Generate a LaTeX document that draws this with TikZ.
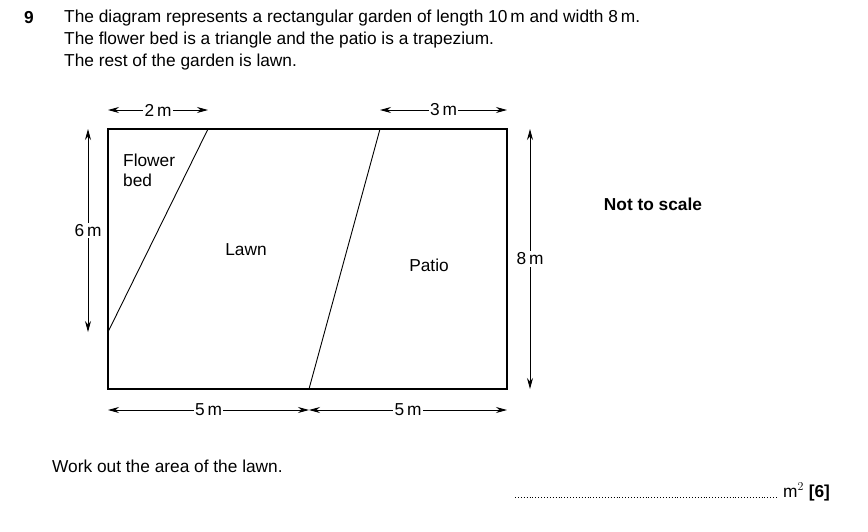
\documentclass[tikz,border=0pt]{standalone}
\usepackage{fontspec}
\setmainfont{Liberation Sans}
\usetikzlibrary{arrows.meta}
\begin{document}
\begin{tikzpicture}[x=1pt,y=-1pt,font=\fontsize{17.3}{20}\selectfont,
  dim/.style={{Stealth[length=11pt,width=6pt]}-{Stealth[length=11pt,width=6pt]},line width=0.8pt},
  lab/.style={fill=white,inner sep=1.5pt},
  txt/.style={anchor=west,inner sep=0pt}]
\useasboundingbox (0,0) rectangle (868,531);
\node[txt,font=\fontsize{17.3}{20}\selectfont\bfseries] (q) at (24,18) {9};
\node[txt] (l1) at (64,18) {The diagram represents a rectangular garden of length 10\,m and width 8\,m.};
\node[txt] (l2) at (64,40) {The flower bed is a triangle and the patio is a trapezium.};
\node[txt] (l3) at (64,62) {The rest of the garden is lawn.};
\coordinate (A) at (108,129); \coordinate (B) at (507,129);
\coordinate (C) at (507,389); \coordinate (D) at (108,389);
\coordinate (F1) at (208,129); \coordinate (F2) at (108,332);
\coordinate (P1) at (380,129); \coordinate (P2) at (309,389);
\draw[line width=1.6pt] (A) rectangle (C);
\draw[line width=0.9pt] (F1) -- (F2);
\draw[line width=0.9pt] (P1) -- (P2);
\coordinate (t1) at (108,110); \coordinate (t2) at (208,110);
\coordinate (t3) at (380,110); \coordinate (t4) at (507,110);
\coordinate (b1) at (108,410); \coordinate (b2) at (309,410); \coordinate (b3) at (507,410);
\coordinate (lv1) at (88,129); \coordinate (lv2) at (88,332);
\coordinate (rv1) at (530,129); \coordinate (rv2) at (530,389);
\draw[dim] (t1) -- node[lab] {2\,m} (t2);
\draw[dim] (t3) -- node[lab] {3\,m} (t4);
\draw[dim] (b1) -- node[lab] {5\,m} (b2);
\draw[dim] (b2) -- node[lab] {5\,m} (b3);
\draw[dim] (lv1) -- node[lab] {6\,m} (lv2);
\draw[dim] (rv1) -- node[lab] {8\,m} (rv2);
\node[anchor=north west,align=left,inner sep=0pt] (fb) at (123,154) {Flower\\bed};
\node (lawn) at (246,250) {Lawn};
\node (patio) at (429,265) {Patio};
\node[font=\fontsize{17.3}{20}\selectfont\bfseries] (nts) at (653,204) {Not to scale};
\node[txt] (w) at (52,466) {Work out the area of the lawn.};
\coordinate (d1) at (515,497); \coordinate (d2) at (777,497);
\draw[dotted,line width=0.9pt] (d1) -- (d2);
\node[txt] (ans) at (783,492) {m$^2$ \textbf{[6]}};
\end{tikzpicture}
\end{document}
